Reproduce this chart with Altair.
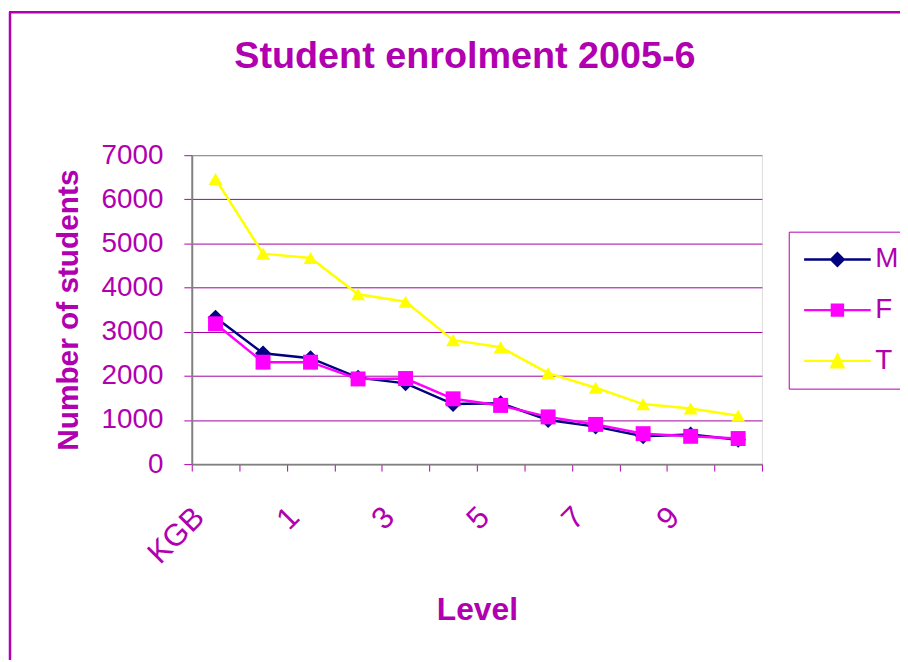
import json
import altair as alt
import pandas as pd

# ---------------- data ----------------
levels = ["KGB", "KGA", "1", "2", "3", "4", "5", "6", "7", "8", "9", "10"]
shown_labels = ["KGB", "1", "3", "5", "7", "9"]
series_names = ["M", "F", "T"]
male = [3320, 2510, 2400, 1960, 1830, 1360, 1380, 1000, 850, 630, 670, 550]
female = [3180, 2310, 2310, 1930, 1940, 1480, 1330, 1070, 900, 690, 630, 580]
total = [6460, 4770, 4670, 3850, 3680, 2810, 2650, 2060, 1730, 1360, 1260, 1095]
y_ticks = [0, 1000, 2000, 3000, 4000, 5000, 6000, 7000]

# ---------------- style ----------------
PURPLE = "#B000B0"
GRID = "#A000A0"
FONT = "Liberation Sans, Arial, sans-serif"
series_colors = ["#000080", "#FF00FF", "#FFFF00"]
point_shapes = ["diamond", "square", "triangle-up"]
point_sizes = [256, 196, 324]
# legend symbols: a line segment with the marker on it (units of 7.5 px)
bar = "M-4.47,-0.16L4.47,-0.16L4.47,0.16L-4.47,0.16Z"
legend_paths = [
    bar + "M0,-1.07L1.07,0L0,1.07L-1.07,0Z",
    bar + "M-0.9,-0.9L0.9,-0.9L0.9,0.9L-0.9,0.9Z",
    bar + "M0,-1.2L1.07,1.03L-1.07,1.03Z",
]

rows = []
for name, vals in zip(series_names, [male, female, total]):
    for i, (lvl, v) in enumerate(zip(levels, vals)):
        rows.append({"Level": lvl, "series": name, "students": v, "idx": i})
df = pd.DataFrame(rows)

color_scale = alt.Scale(domain=series_names, range=series_colors)

x_enc = alt.X(
    "Level:N",
    sort=levels,
    bandPosition=0.5,
    scale=alt.Scale(type="band", paddingInner=0, paddingOuter=0),
    axis=alt.Axis(
        title="Level",
        titleFont=FONT,
        titleFontSize=32,
        titleFontWeight="bold",
        titleColor=PURPLE,
        titlePadding=26,
        labelFont=FONT,
        labelFontSize=31,
        labelColor=PURPLE,
        labelAngle=-45,
        labelPadding=31,
        labelOffset=-27,
        labelOverlap=False,
        labelExpr="indexof(" + json.dumps(shown_labels) + ", datum.label) >= 0 ? datum.label : ''",
        tickBand="extent",
        tickColor=PURPLE,
        tickSize=7,
        domainColor="#808080",
        domainWidth=2,
        grid=False,
    ),
)

y_enc = alt.Y(
    "students:Q",
    scale=alt.Scale(domain=[0, 7000], nice=False),
    axis=alt.Axis(
        title="Number of students",
        titleFont=FONT,
        titleFontSize=30,
        titleFontWeight="bold",
        titleColor=PURPLE,
        titlePadding=18,
        values=y_ticks,
        format="d",
        labelFont=FONT,
        labelFontSize=28,
        labelColor=PURPLE,
        labelPadding=21,
        tickColor=PURPLE,
        tickSize=8,
        domainColor="#808080",
        domainWidth=2,
        grid=True,
        gridColor=alt.condition("datum.value >= 7000", alt.value("#808080"), alt.value(GRID)),
        gridWidth=1,
    ),
)

lines = alt.Chart(df).mark_line(strokeWidth=2.5).encode(
    x=x_enc,
    y=y_enc,
    color=alt.Color("series:N", scale=color_scale, legend=None),
    order=alt.Order("idx:Q"),
)

points = alt.Chart(df).mark_point(filled=True, opacity=1, strokeWidth=0).encode(
    x=x_enc,
    y=y_enc,
    color=alt.Color("series:N", scale=color_scale, legend=None),
    shape=alt.Shape("series:N", scale=alt.Scale(domain=series_names, range=point_shapes), legend=None),
    size=alt.Size("series:N", scale=alt.Scale(domain=series_names, range=point_sizes), legend=None),
)

legend_spec = dict(
    orient="none",
    legendX=601,
    legendY=77,
    title=None,
    strokeColor=PURPLE,
    fillColor="white",
    padding=14,
    rowPadding=23,
    labelFont=FONT,
    labelFontSize=28,
    labelColor=PURPLE,
    symbolSize=225,
    symbolStrokeWidth=0,
    symbolOffset=21,
    labelOffset=24,
)

legend_layer = alt.Chart(df).transform_filter("false").mark_point(
    filled=True, size=225, opacity=1
).encode(
    color=alt.Color("series:N", scale=color_scale, legend=alt.Legend(**legend_spec)),
    shape=alt.Shape(
        "series:N",
        scale=alt.Scale(domain=series_names, range=legend_paths),
        legend=alt.Legend(**legend_spec),
    ),
)

one = pd.DataFrame({"a": [0]})
frame_left = alt.Chart(one).mark_rule(color=PURPLE, strokeWidth=2.5).encode(
    x=alt.value(-183), y=alt.value(-144), y2=alt.value(520)
)
frame_top = alt.Chart(one).mark_rule(color=PURPLE, strokeWidth=2.5).encode(
    x=alt.value(-184), x2=alt.value(730), y=alt.value(-144)
)

chart = (
    alt.layer(lines, points, legend_layer, frame_left, frame_top)
    .resolve_scale(color="independent", shape="independent", size="independent")
    .properties(
        width=574,
        height=311,
        padding={"left": 185, "top": 146, "right": 139, "bottom": 195},
        autosize=alt.AutoSizeParams(type="none"),
        title=alt.TitleParams(
            "Student enrolment 2005-6",
            font=FONT,
            fontSize=38,
            fontWeight="bold",
            color=PURPLE,
            anchor="middle",
            frame="group",
            offset=-65,
            dx=-12,
        ),
    )
    .configure_view(fill="#C0C0C0", stroke="#808080", strokeWidth=2)
    .configure(background="white")
)

chart.save("out.html", embed_options={"renderer": "svg", "actions": False})
